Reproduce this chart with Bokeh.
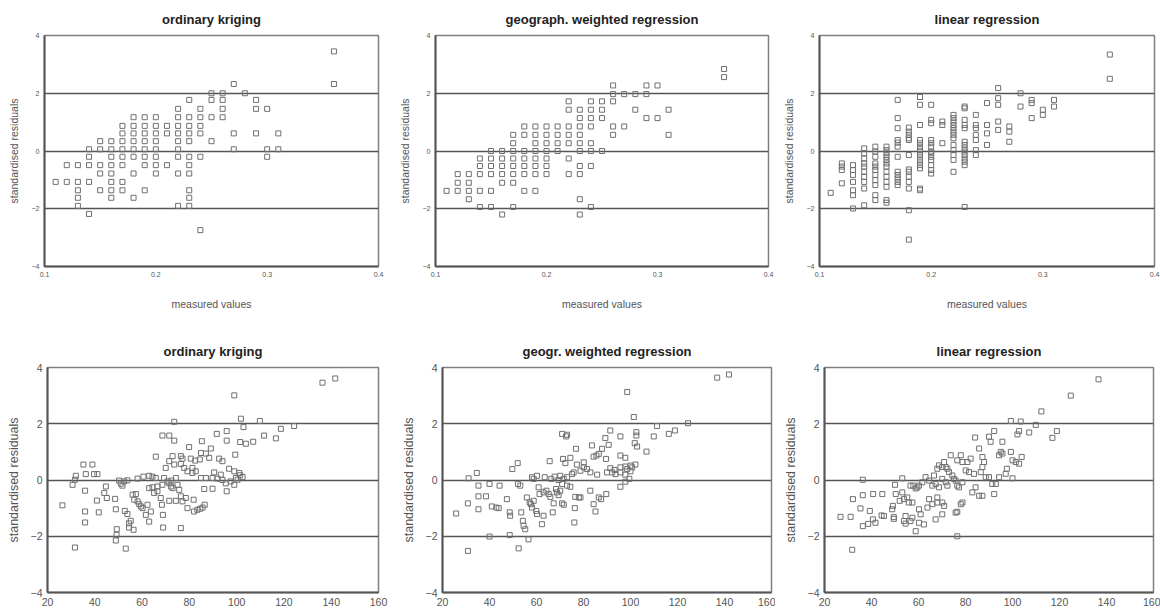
from bokeh.plotting import figure
from bokeh.layouts import column, row
from bokeh.models import FixedTicker, PrintfTickFormatter
from bokeh.embed import file_html
from bokeh.resources import INLINE

# ---------------- data ----------------
titles_top = ["ordinary kriging", "geograph. weighted regression", "linear regression"]
titles_bottom = ["ordinary kriging", "geogr. weighted regression", "linear regression"]
y_label = "standardised residuals"
x_label_top = "measured values"
y_ticks = [-4, -2, 0, 2, 4]
x_ticks_top = [0.1, 0.2, 0.3, 0.4]
x_ticks_bottom = [20, 40, 60, 80, 100, 120, 140, 160]
hline_levels = [-2, 0, 2]

# top-left: ordinary kriging (measured values, residuals) per measured value
ok_top = {
    0.11: [-1.07],
    0.12: [-0.49, -1.07],
    0.13: [-0.49, -1.07, -1.36, -1.62, -1.9],
    0.14: [0.06, -0.2, -0.49, -1.07, -2.18],
    0.15: [0.34, 0.06, -0.49, -0.78, -1.36],
    0.16: [0.34, 0.06, -0.2, -0.49, -0.78, -1.07, -1.36, -1.62],
    0.17: [0.87, 0.61, 0.34, 0.06, -0.2, -0.49, -1.07, -1.36],
    0.18: [1.17, 0.87, 0.61, 0.34, 0.06, -0.2, -0.78, -1.62],
    0.19: [1.17, 0.87, 0.61, 0.34, 0.06, -0.2, -0.49, -1.36],
    0.20: [1.17, 0.87, 0.61, 0.34, 0.06, -0.2, -0.49, -0.78],
    0.21: [0.87, 0.61, -0.49],
    0.22: [1.46, 1.17, 0.87, 0.61, 0.34, 0.06, -0.2, -0.78, -1.9],
    0.23: [1.77, 1.17, 0.87, 0.61, 0.34, -0.2, -0.49, -0.78, -1.36, -1.62, -1.9],
    0.24: [1.46, 1.17, 0.87, 0.61, -0.2, -2.74],
    0.25: [2.0, 1.77, 1.17, 0.34],
    0.26: [2.0, 1.77, 1.46, 1.17],
    0.27: [2.32, 0.61, 0.06],
    0.28: [2.0],
    0.29: [1.77, 1.46, 0.61],
    0.30: [1.46, 0.06, -0.2],
    0.31: [0.61, 0.06],
    0.36: [3.45, 2.32],
}

gwr_top = {
    0.11: [-1.38],
    0.12: [-0.8, -1.1, -1.38],
    0.13: [-0.8, -1.1, -1.38, -1.67],
    0.14: [-0.26, -0.52, -0.8, -1.38, -1.94],
    0.15: [0.0, -0.26, -0.52, -0.8, -1.38, -1.94],
    0.16: [0.0, -0.26, -0.52, -0.8, -1.1, -2.2],
    0.17: [0.56, 0.27, 0.0, -0.26, -0.52, -0.8, -1.1, -1.94],
    0.18: [0.85, 0.56, 0.0, -0.26, -0.52, -0.8, -1.38],
    0.19: [0.85, 0.56, 0.27, 0.0, -0.26, -0.52, -0.8, -1.38],
    0.20: [0.85, 0.56, 0.27, 0.0, -0.26, -0.52, -0.8],
    0.21: [0.85, 0.56, 0.27, 0.0],
    0.22: [1.72, 1.43, 0.85, 0.56, 0.27, -0.26, -0.8],
    0.23: [1.43, 1.14, 0.85, 0.56, 0.27, 0.0, -0.52, -0.8, -1.67, -2.2],
    0.24: [1.72, 1.43, 1.14, 0.85, 0.27, 0.0, -0.52, -1.94],
    0.25: [1.72, 1.43, 1.14, 0.0],
    0.26: [2.27, 1.97, 1.72, 0.85, 0.56],
    0.27: [1.97, 0.85],
    0.28: [1.97, 1.43],
    0.29: [2.27, 1.97, 1.14],
    0.30: [2.27, 1.14],
    0.31: [1.43, 0.56],
    0.36: [2.84, 2.56],
}

lr_top = {
    0.11: [-1.45],
    0.12: [-0.43, -0.54, -0.66, -1.12],
    0.13: [-0.49, -0.66, -0.83, -1.07, -1.36, -1.53, -1.99],
    0.14: [0.09, -0.08, -0.26, -0.43, -0.54, -0.72, -0.89, -1.07, -1.3, -1.88],
    0.15: [0.15, -0.02, -0.2, -0.43, -0.54, -0.66, -0.83, -1.01, -1.18, -1.53, -1.7],
    0.16: [0.15, 0.03, -0.08, -0.2, -0.31, -0.43, -0.54, -0.72, -0.89, -1.07, -1.24, -1.7, -1.79],
    0.17: [1.77, 1.14, 0.79, 0.38, 0.29, 0.15, -0.2, -0.72, -0.83, -0.95, -1.07, -1.18],
    0.18: [0.81, 0.67, 0.56, 0.44, 0.38, -0.14, -0.64, -0.72, -0.89, -1.07, -1.3, -2.05, -3.07],
    0.19: [1.87, 1.6, 0.9, 0.38, 0.27, 0.15, 0.06, -0.02, -0.14, -0.26, -0.37, -0.49, -0.6, -1.3, -1.36],
    0.20: [1.6, 1.08, 0.96, 0.38, 0.27, 0.15, -0.02, -0.08, -0.2, -0.31, -0.49, -0.66, -0.78],
    0.21: [1.02, 0.9, 0.27],
    0.22: [1.25, 1.14, 1.02, 0.9, 0.79, 0.67, 0.56, 0.44, 0.21, 0.03, -0.14, -0.31, -0.72],
    0.23: [1.54, 1.48, 1.08, 0.9, 0.79, 0.32, 0.21, 0.09, -0.02, -0.14, -0.26, -0.37, -0.49, -1.94],
    0.24: [1.25, 0.9, 0.79, 0.56, 0.38, 0.03, -0.14],
    0.25: [1.66, 0.9, 0.61, 0.21],
    0.26: [2.18, 1.83, 1.6, 1.02, 0.73],
    0.27: [0.85, 0.67, 0.32],
    0.28: [2.0, 1.54],
    0.29: [1.77, 1.66, 1.14],
    0.30: [1.43, 1.25],
    0.31: [1.77, 1.54],
    0.36: [3.34, 2.5],
}

ok_bottom_x = [136.3, 141.7, 99.0, 101.8, 109.8, 73.6, 124.3, 118.7, 102.9, 91.6, 95.8, 68.6, 71.5, 73.6,
               111.6, 116.6, 85.3, 95.8, 101.5, 103.9, 107.0, 79.9, 89.1, 84.9, 87.0, 99.4, 65.8, 72.9,
               76.4, 77.1, 80.6, 82.5, 84.4, 88.4, 92.6, 94.0, 71.5, 73.6, 70.0, 76.4, 77.8, 81.3, 82.7,
               90.5, 93.3, 96.8, 99.0, 101.1, 35.2, 39.0, 36.2, 39.7, 41.1, 32.0, 31.6, 30.6, 35.9, 44.7,
               44.0, 45.1, 40.9, 48.6, 26.3, 35.9, 41.7, 35.9, 31.6, 48.9, 52.7, 53.8, 55.2, 53.1, 49.3,
               49.2, 48.9, 54.5, 56.4, 54.5, 50.3, 52.4, 53.8, 51.0, 51.7, 58.1, 60.6, 63.0, 64.4, 65.8,
               56.0, 57.4, 56.7, 58.1, 58.8, 59.5, 60.2, 62.3, 61.6, 63.0, 63.7, 65.1, 64.4, 63.0, 66.5,
               66.5, 68.6, 69.3, 67.9, 68.4, 68.8, 68.9, 70.8, 71.5, 72.2, 72.4, 72.9, 74.3, 75.0, 75.7,
               76.4, 77.1, 74.3, 71.5, 76.4, 78.5, 79.2, 81.8, 82.0, 83.4, 84.6, 85.6, 86.5, 86.3, 89.8,
               87.0, 89.8, 91.9, 94.0, 95.4, 97.5, 99.0, 99.7, 100.4, 101.5, 102.5, 95.8, 79.2, 81.3, 84.9]
ok_bottom_y = [3.46, 3.61, 3.01, 2.18, 2.10, 2.07, 1.92, 1.82, 1.88, 1.64, 1.74, 1.58, 1.58, 1.40,
               1.58, 1.48, 1.38, 1.40, 1.35, 1.29, 1.36, 1.17, 1.12, 0.96, 0.94, 0.90, 0.83, 0.85,
               0.85, 0.76, 0.76, 0.69, 0.73, 0.79, 0.76, 0.67, 0.67, 0.55, 0.43, 0.57, 0.43, 0.43, 0.31,
               0.27, 0.19, 0.40, 0.31, 0.25, 0.55, 0.55, 0.21, 0.21, 0.21, 0.15, 0.01, -0.17, -0.38, -0.23,
               -0.46, -0.64, -0.73, -0.67, -0.90, -1.12, -1.15, -1.51, -2.40, -1.04, -1.10, -1.21, -1.45, -2.44, -1.75,
               -1.95, -2.15, -1.69, -1.77, -1.54, -0.02, -0.05, -0.01, -0.13, -0.20, 0.05, 0.12, 0.15, 0.12, 0.07,
               -0.52, -0.50, -0.70, -0.76, -0.86, -0.94, -1.00, -0.88, -1.24, -1.48, -1.12, -0.46, -0.26, -0.29, -0.23,
               -0.40, -0.17, 0.07, -0.64, -0.88, -1.24, -1.69, -0.05, -0.11, -0.23, -0.02, -0.29, 0.07, -0.17, -0.35,
               -0.58, -0.76, -0.74, -0.74, -1.71, -0.64, -1.00, -0.70, -1.12, -1.06, -1.02, -0.98, -0.88, -0.32, -0.31,
               0.07, 0.07, 0.05, 0.00, -0.12, -0.05, -0.17, 0.07, 0.01, 0.17, 0.11, -0.40, 0.31, 0.25, 0.07]

gwr_bottom_x = [136.9, 141.9, 98.6, 101.4, 124.5, 111.3, 118.9, 116.3, 109.9, 91.4, 95.7, 102.5, 102.5, 89.3,
                90.7, 101.8, 102.8, 106.8, 70.9, 73.0, 72.6, 83.6, 76.8, 87.9, 86.5, 85.5, 84.3, 65.6, 71.3,
                72.3, 74.4, 80.1, 77.2, 89.6, 95.7, 97.8, 91.4, 93.2, 95.7, 97.8, 100.0, 102.1, 95.7, 97.8,
                100.0, 93.6, 92.2, 90.0, 85.8, 82.9, 80.1, 81.5, 78.7, 75.8, 75.1, 73.0, 71.6, 70.1, 69.4,
                70.9, 67.7, 66.3, 63.5, 60.2, 58.8, 58.1, 52.0, 49.7, 34.6, 31.1, 35.3, 40.0, 44.3, 52.1,
                53.1, 35.3, 38.5, 30.8, 35.3, 41.0, 42.9, 43.9, 25.8, 47.4, 48.6, 48.8, 53.5, 54.2, 54.5,
                55.2, 56.6, 40.0, 48.6, 52.4, 30.8, 55.9, 57.1, 57.6, 58.1, 58.8, 59.9, 60.2, 62.3, 63.0,
                60.9, 61.3, 63.0, 64.2, 65.2, 65.9, 67.3, 66.9, 68.3, 68.7, 69.4, 70.1, 70.9, 71.6, 73.0,
                74.4, 76.5, 78.0, 76.3, 76.1, 78.7, 82.9, 84.3, 85.1, 86.5, 87.5, 89.7, 95.7, 97.8, 99.5,
                98.6, 100.7]
gwr_bottom_y = [3.64, 3.75, 3.13, 2.24, 2.02, 1.92, 1.76, 1.64, 1.55, 1.76, 1.55, 1.70, 1.58, 1.49,
                1.25, 1.31, 1.19, 1.01, 1.64, 1.61, 1.55, 1.23, 1.11, 1.11, 0.93, 0.87, 0.83, 0.67, 0.75,
                0.60, 0.79, 0.63, 0.55, 0.75, 0.87, 0.79, 0.42, 0.36, 0.45, 0.48, 0.51, 0.55, 0.27, 0.19,
                0.31, 0.21, 0.27, 0.27, 0.19, 0.27, 0.45, 0.39, 0.33, 0.27, 0.21, 0.10, 0.04, 0.15, 0.00,
                -0.14, 0.12, 0.04, 0.10, 0.15, 0.04, 0.10, 0.60, 0.39, 0.25, 0.06, -0.20, -0.14, -0.20, -0.14,
                -0.20, -0.58, -0.58, -0.83, -1.04, -0.94, -0.98, -1.00, -1.19, -0.68, -1.15, -1.27, -1.15, -1.45, -1.63,
                -1.75, -2.11, -2.01, -1.96, -2.43, -2.52, -0.62, -0.80, -0.86, -0.98, -0.74, -1.10, -1.21, -1.57, -1.27,
                -0.26, -0.50, -0.44, -0.38, -0.50, -0.60, -0.83, -1.15, -0.32, -0.44, -0.54, -0.38, -0.83, -0.88, -0.20,
                -0.24, -0.60, -0.62, -1.00, -1.51, -0.62, -0.38, -0.86, -1.12, -0.62, -0.68, -0.50, -0.24, -0.06, 0.04,
                0.39, 0.45]

lr_bottom_x = [136.6, 124.8, 112.3, 99.3, 103.5, 109.9, 107.1, 102.1, 102.8, 118.9, 117.0, 92.2, 90.0, 90.7,
               95.7, 84.1, 85.8, 95.0, 95.7, 94.3, 99.3, 100.0, 101.4, 102.8, 103.9, 97.6, 97.1, 100.0,
               94.3, 87.2, 87.9, 87.2, 86.5, 83.6, 81.5, 80.1, 76.5, 78.7, 80.8, 82.2, 73.7, 78.0, 70.9,
               70.1, 71.6, 72.3, 73.0, 68.7, 68.0, 66.6, 74.4, 75.1, 75.8, 76.5, 77.2, 78.7, 88.6, 90.0,
               91.4, 92.9, 84.3, 85.8, 87.2, 82.9, 92.2, 70.1, 71.6, 72.3, 68.7, 67.3, 65.9, 64.5, 63.0,
               61.6, 60.2, 59.5, 58.8, 57.8, 56.6, 53.1, 50.0, 50.3, 53.1, 53.8, 55.2, 52.0, 49.1, 48.8,
               55.9, 57.4, 64.5, 68.0, 68.0, 65.9, 60.2, 63.8, 70.1, 70.9, 78.0, 78.7, 75.8, 76.5, 70.1,
               67.3, 60.9, 60.2, 56.6, 57.4, 54.5, 54.5, 53.8, 58.8, 62.3, 49.5, 49.5, 44.6, 40.7, 36.3,
               36.3, 32.1, 35.3, 39.3, 40.6, 41.7, 38.6, 44.3, 45.3, 36.3, 26.8, 31.1, 31.8, 76.5]
lr_bottom_y = [3.58, 3.00, 2.44, 2.10, 2.08, 1.96, 1.69, 1.62, 1.74, 1.74, 1.50, 1.74, 1.54, 1.36,
               1.36, 1.51, 1.12, 1.00, 0.94, 0.88, 1.00, 0.70, 0.64, 0.58, 0.82, 0.40, 0.22, 0.06,
               0.10, 0.82, 0.64, 0.46, 0.28, 0.22, 0.28, 0.34, 0.70, 0.64, 0.64, 0.76, 0.88, 0.88, 0.64,
               0.46, 0.46, 0.40, 0.28, 0.52, 0.40, 0.16, 0.16, 0.04, -0.02, -0.20, -0.26, -0.08, 0.10, 0.10,
               -0.14, -0.14, -0.26, -0.56, -0.56, -0.44, -0.50, 0.04, -0.08, -0.20, -0.26, -0.14, -0.20, -0.02, 0.10,
               -0.08, -0.20, -0.26, -0.30, -0.20, -0.20, 0.06, -0.17, -0.50, -0.44, -0.68, -0.62, -0.74, -0.92, -1.04,
               -0.80, -0.80, -0.68, -0.62, -0.80, -0.86, -1.04, -0.98, -0.80, -0.92, -0.86, -0.80, -1.16, -1.13, -1.22,
               -1.40, -1.22, -1.52, -1.46, -1.34, -1.28, -1.55, -1.46, -1.82, -1.58, -1.38, -1.32, -0.50, -0.50, -0.54,
               0.01, -0.68, -1.01, -1.10, -1.40, -1.52, -1.56, -1.26, -1.28, -1.64, -1.31, -1.31, -2.48, -2.00]


def flatten(d):
    xs, ys = [], []
    for k, vals in d.items():
        for v in vals:
            xs.append(k)
            ys.append(v)
    return xs, ys


FONT = "Liberation Sans"


def make_panel(title, xs, ys, x_range, x_ticks, fw, fh, bl, br, bt, bb,
               tick_size, label_size, x_label=None, top=True):
    p = figure(frame_width=fw, frame_height=fh, x_range=x_range, y_range=(-4, 4),
               output_backend="svg", toolbar_location=None,
               min_border_left=bl, min_border_right=br, min_border_top=bt, min_border_bottom=bb,
               background_fill_color="white", border_fill_color="white")
    p.title.text = title
    p.title.align = "center"
    p.title.text_font = FONT
    p.title.text_font_size = "13px"
    p.title.text_font_style = "bold"
    p.title.text_color = "#222222"
    p.title.standoff = 18
    p.grid.visible = False
    p.outline_line_color = "#808080"
    p.outline_line_width = 1.5

    for ax in (p.xaxis[0], p.yaxis[0]):
        ax.major_tick_out = 0
        ax.major_tick_in = 0
        ax.minor_tick_out = 0
        ax.minor_tick_in = 0
        ax.axis_line_color = "#555555"
        ax.axis_line_width = 2
        ax.major_label_text_font = FONT
        ax.major_label_text_font_size = tick_size
        ax.major_label_text_color = "#555555"
        ax.major_label_standoff = 5
        ax.axis_label_text_font = FONT
        ax.axis_label_text_font_size = label_size
        ax.axis_label_text_font_style = "normal"
        ax.axis_label_text_color = "#555555"

    p.xaxis.ticker = FixedTicker(ticks=x_ticks)
    if top:
        p.xaxis.formatter = PrintfTickFormatter(format="%.1f")
    p.yaxis.ticker = FixedTicker(ticks=y_ticks)
    p.yaxis.axis_label = y_label
    p.yaxis.axis_label_standoff = 9 if top else 7
    if x_label:
        p.xaxis.axis_label = x_label
        p.xaxis.axis_label_standoff = 18

    p.hspan(y=hline_levels, line_color="#555555", line_width=1.5)
    p.scatter(xs, ys, marker="square", size=5, fill_color=None,
              line_color="#707070", line_width=1)
    return p


tx1, ty1 = flatten(ok_top)
tx2, ty2 = flatten(gwr_top)
tx3, ty3 = flatten(lr_top)

p1 = make_panel(titles_top[0], tx1, ty1, (0.1, 0.4), x_ticks_top, 334, 231, 44, 12, 35, 54, "7px", "10.5px", x_label_top)
p2 = make_panel(titles_top[1], tx2, ty2, (0.1, 0.4), x_ticks_top, 333, 231, 45, 7, 35, 54, "7px", "10.5px", x_label_top)
p3 = make_panel(titles_top[2], tx3, ty3, (0.1, 0.4), x_ticks_top, 335, 231, 44, 6, 35, 54, "7px", "10.5px", x_label_top)

p4 = make_panel(titles_bottom[0], ok_bottom_x, ok_bottom_y, (20, 160), x_ticks_bottom, 331, 225, 47, 12, 47, 19, "10.5px", "12.5px", None, top=False)
p5 = make_panel(titles_bottom[1], gwr_bottom_x, gwr_bottom_y, (20, 160), x_ticks_bottom, 329, 225, 52, 4, 47, 19, "10.5px", "12.5px", None, top=False)
p6 = make_panel(titles_bottom[2], lr_bottom_x, lr_bottom_y, (20, 160), x_ticks_bottom, 329, 225, 49, 7, 47, 19, "10.5px", "12.5px", None, top=False)

layout = column(row(p1, p2, p3), row(p4, p5, p6))

open("out.html", "w").write(file_html(layout, INLINE))
